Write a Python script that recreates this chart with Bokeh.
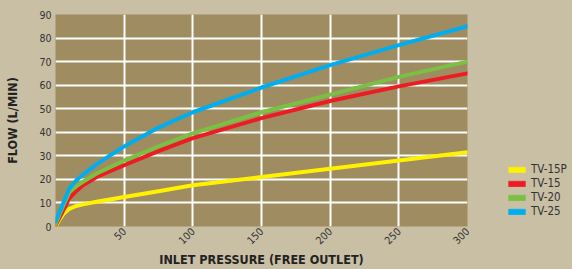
from bokeh.plotting import figure
from bokeh.layouts import row
from bokeh.models import ColumnDataSource, Legend, LegendItem, FixedTicker, Range1d
from bokeh.embed import file_html
from bokeh.resources import INLINE
from math import pi

# ---- data ----
series_names = ["TV-15P", "TV-15", "TV-20", "TV-25"]
series_colors = ["#FFF200", "#ED1C24", "#7AC143", "#00AEEF"]

x_tv15p = [0, 3, 6, 10, 15, 20, 30, 50, 75, 100, 150, 200, 250, 300]
y_tv15p = [0, 3, 5.5, 7.5, 8.7, 9.4, 10.5, 12.5, 15, 17.5, 21, 24.5, 28, 31.5]

x_tv15 = [0, 5, 10, 15, 20, 30, 50, 75, 100, 150, 200, 250, 300]
y_tv15 = [0.5, 6, 12, 15, 17.5, 21, 26, 32, 37.5, 46, 53.3, 59.5, 65]

x_tv20 = [0, 5, 10, 15, 20, 30, 50, 75, 100, 150, 200, 250, 300]
y_tv20 = [1, 8, 14.5, 17, 19, 22.5, 28, 34, 39.5, 48.5, 56, 63.5, 70]

x_tv25 = [0, 5, 10, 15, 20, 30, 50, 75, 100, 150, 200, 250, 300]
y_tv25 = [2, 9, 16, 19.5, 22, 26.5, 34, 42, 48.5, 59, 68.5, 77, 85]

x_ticks = [50, 100, 150, 200, 250, 300]
y_ticks = [0, 10, 20, 30, 40, 50, 60, 70, 80, 90]

x_title = "INLET PRESSURE (FREE OUTLET)"
y_title = "FLOW (L/MIN)"

BG = "#C9BFA5"
PLOT_BG = "#9F8C60"
TXT = "#333333"
FONT = "'DejaVu Sans Condensed', 'Liberation Sans', sans-serif"

p = figure(width=472, height=269, output_backend="svg", toolbar_location=None,
           x_range=Range1d(0, 300), y_range=Range1d(0, 90))
p.min_border_left = 55
p.min_border_right = 5
p.min_border_top = 14
p.min_border_bottom = 39
p.background_fill_color = PLOT_BG
p.border_fill_color = BG
p.outline_line_color = None

p.xgrid.ticker = FixedTicker(ticks=[50, 100, 150, 200, 250])
p.ygrid.ticker = FixedTicker(ticks=[10, 20, 30, 40, 50, 60, 70, 80])
for g in (p.xgrid, p.ygrid):
    g.grid_line_color = "white"
    g.grid_line_width = 2
    g.grid_line_alpha = 1

p.xaxis.ticker = FixedTicker(ticks=x_ticks)
p.yaxis.ticker = FixedTicker(ticks=y_ticks)
for ax in (p.xaxis, p.yaxis):
    ax.axis_line_color = None
    ax.major_tick_line_color = None
    ax.minor_tick_line_color = None
    ax.major_tick_out = 0
    ax.major_tick_in = 0
    ax.minor_tick_out = 0
    ax.minor_tick_in = 0
    ax.major_label_text_font = FONT
    ax.major_label_text_font_size = "10.5px"
    ax.major_label_text_color = TXT
    ax.axis_label_text_font = FONT
    ax.axis_label_text_font_size = "12.5px"
    ax.axis_label_text_font_style = "bold"
    ax.axis_label_text_color = "#222222"

p.xaxis.major_label_orientation = pi / 4
p.xaxis.major_label_standoff = 3
p.xaxis.axis_label = x_title
p.xaxis.axis_label_standoff = 1
p.yaxis.major_label_standoff = 4
p.yaxis.axis_label = y_title
p.yaxis.axis_label_standoff = 16

xs = [x_tv15p, x_tv15, x_tv20, x_tv25]
ys = [y_tv15p, y_tv15, y_tv20, y_tv25]
for xv, yv, c in zip(xs, ys, series_colors):
    p.line(xv, yv, line_color=c, line_width=4, line_join="round", line_cap="round")

# legend panel
p2 = figure(width=100, height=269, output_backend="svg", toolbar_location=None,
            x_axis_location=None, y_axis_location=None,
            x_range=Range1d(0, 300), y_range=Range1d(0, 90), min_border=0)
p2.background_fill_color = BG
p2.border_fill_color = BG
p2.outline_line_color = None
p2.xgrid.visible = False
p2.ygrid.visible = False

items = []
for name, xv, yv, c in zip(series_names, xs, ys, series_colors):
    src = ColumnDataSource(dict(left=xv, right=xv, top=yv, bottom=yv))
    r = p2.quad(left="left", right="right", top="top", bottom="bottom", source=src,
                fill_color=c, line_color=c, line_alpha=0.5, visible=False)
    items.append(LegendItem(label=name, renderers=[r]))

legend = Legend(items=items, location=(34, 8))
legend.click_policy = "none"
legend.inactive_fill_alpha = 0
legend.background_fill_alpha = 0
legend.border_line_color = None
legend.glyph_width = 21
legend.glyph_height = 7
legend.label_text_font = FONT
legend.label_text_font_size = "11.5px"
legend.label_text_color = TXT
legend.label_standoff = 4
legend.spacing = 0
legend.label_height = 14
legend.padding = 0
legend.margin = 0
p2.add_layout(legend, "center")

layout = row(p, p2)
html = file_html(layout, INLINE)
html = html.replace("</head>",
                    "<style>html, body { background: %s !important; }</style></head>" % BG, 1)
open("out.html", "w").write(html)
